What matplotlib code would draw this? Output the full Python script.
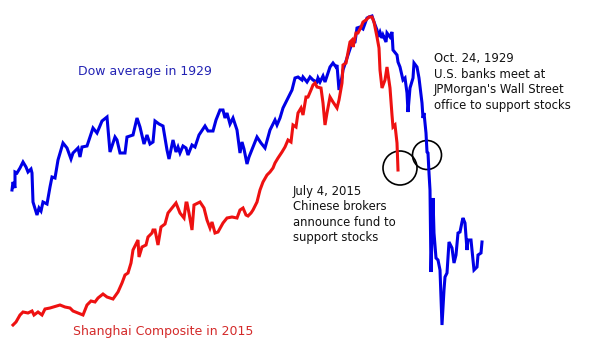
import matplotlib
matplotlib.use("Agg")
import matplotlib.pyplot as plt
from matplotlib.patches import Ellipse

# Dow 1929 (x = position along time, y = level, screen units)
dow_x = [12, 13, 15, 15, 17, 20, 23, 26, 28, 31, 32, 33, 37, 39, 41, 43, 47, 50, 52, 55,
         58, 63, 67, 71, 73, 78, 80, 82, 87, 90, 93, 97, 102, 107, 110, 115, 117, 120, 125, 127,
         133, 137, 140, 144, 147, 150, 153, 155, 159, 163, 167, 169, 173, 176, 178, 180, 183, 186, 188, 192,
         195, 199, 205, 208, 213, 216, 220, 223, 225, 227, 230, 233, 237, 240, 242, 244, 247, 249, 253, 257,
         261, 265, 270, 275, 277, 280, 283, 287, 292, 295, 298, 302, 303, 307, 310, 313, 317, 318, 320, 323,
         325, 328, 330, 333, 336, 337, 339, 342, 343, 348, 352, 355, 357, 360, 363, 367, 369, 372, 374, 377,
         378, 380, 382, 383, 386, 387, 390, 392, 393, 397, 398, 400, 403, 405, 407, 408, 410, 413, 414, 417,
         419, 422, 423, 424, 426, 427, 428, 429, 430, 431, 433, 434, 436, 438, 440, 442, 444, 445, 447, 449,
         452, 454, 456, 458, 460, 462, 463, 465, 467, 468, 471, 474, 477, 478, 481, 482]
dow_y = [190, 182, 188, 172, 173, 168, 162, 167, 172, 169, 173, 202, 215, 208, 211, 202, 204, 187, 177, 178,
         160, 143, 148, 159, 153, 148, 157, 147, 146, 137, 128, 133, 121, 117, 152, 137, 140, 153, 153, 137,
         135, 118, 127, 144, 135, 144, 142, 121, 124, 126, 150, 159, 140, 152, 147, 153, 146, 148, 155, 145,
         147, 135, 126, 131, 131, 120, 110, 110, 118, 113, 124, 118, 130, 153, 142, 149, 164, 157, 147, 137,
         143, 148, 130, 120, 125, 118, 108, 100, 90, 78, 77, 80, 77, 82, 77, 80, 82, 78, 82, 76,
         82, 73, 67, 63, 67, 65, 90, 77, 70, 55, 43, 42, 28, 27, 29, 18, 17, 16, 22, 30,
         37, 32, 38, 35, 42, 33, 37, 32, 50, 55, 62, 67, 80, 78, 93, 112, 88, 78, 63, 67,
         78, 103, 118, 113, 133, 152, 153, 173, 190, 272, 198, 233, 258, 260, 270, 325, 290, 277, 273, 242,
         248, 263, 255, 233, 232, 222, 218, 223, 250, 240, 240, 270, 267, 255, 253, 242]

# Shanghai Composite 2015
sh_x = [13, 16, 20, 23, 28, 32, 34, 38, 42, 45, 50, 60, 65, 70, 73, 78, 83, 87, 91, 95,
        98, 103, 107, 113, 118, 122, 125, 128, 131, 133, 138, 139, 142, 146, 148, 152, 153, 155, 158, 161,
        165, 168, 172, 176, 180, 184, 186, 187, 189, 192, 194, 200, 204, 207, 210, 212, 215, 218, 223, 227,
        232, 237, 240, 243, 246, 248, 251, 253, 257, 260, 263, 267, 270, 273, 275, 278, 282, 285, 288, 291,
        293, 296, 298, 301, 303, 306, 308, 311, 313, 315, 317, 321, 323, 325, 327, 330, 333, 337, 339, 342,
        343, 346, 350, 352, 353, 356, 358, 361, 363, 366, 369, 372, 374, 377, 379, 380, 382, 385, 387, 390,
        392, 393, 395, 397, 398]
sh_y = [325, 322, 315, 312, 313, 311, 315, 312, 315, 309, 308, 305, 307, 308, 311, 313, 315, 305, 301, 302,
        298, 294, 297, 299, 292, 283, 275, 273, 263, 250, 240, 257, 247, 245, 237, 233, 230, 230, 245, 227,
        224, 213, 208, 203, 213, 218, 203, 203, 213, 230, 205, 202, 208, 220, 228, 222, 233, 232, 223, 218,
        217, 218, 210, 208, 215, 216, 213, 210, 202, 190, 182, 175, 172, 168, 163, 158, 152, 147, 140, 142,
        125, 127, 113, 108, 115, 97, 97, 90, 85, 83, 87, 88, 103, 125, 113, 97, 102, 108, 100, 83,
        65, 63, 42, 40, 47, 33, 33, 27, 22, 20, 17, 17, 22, 37, 48, 70, 88, 80, 67, 88,
        115, 127, 125, 143, 170]

fig = plt.figure(figsize=(5.92, 3.49), dpi=100)
ax = fig.add_axes([0, 0, 1, 1])
ax.set_xlim(0, 592)
ax.set_ylim(349, 0)
ax.axis("off")

ax.plot(dow_x, dow_y, color="#0000e6", lw=2.2, solid_joinstyle="miter")
ax.plot(sh_x, sh_y, color="#ee1111", lw=2.2, solid_joinstyle="miter")

# circles around the two support dates
ax.add_patch(Ellipse((400, 168), 34, 34, fill=False, color="black", lw=1.2))
ax.add_patch(Ellipse((427, 155), 29, 29, fill=False, color="black", lw=1.2))

ax.text(78, 72, "Dow average in 1929", color="#2323b4", fontsize=9, va="center")
ax.text(73, 331, "Shanghai Composite in 2015", color="#d42a2a", fontsize=9, va="center")
ax.text(434, 52, "Oct. 24, 1929\nU.S. banks meet at\nJPMorgan's Wall Street\noffice to support stocks",
        fontsize=8.4, va="top", linespacing=1.25, color="#111111")
ax.text(293, 185, "July 4, 2015\nChinese brokers\nannounce fund to\nsupport stocks",
        fontsize=8.4, va="top", linespacing=1.25, color="#111111")

fig.savefig("out.png", dpi=100)
